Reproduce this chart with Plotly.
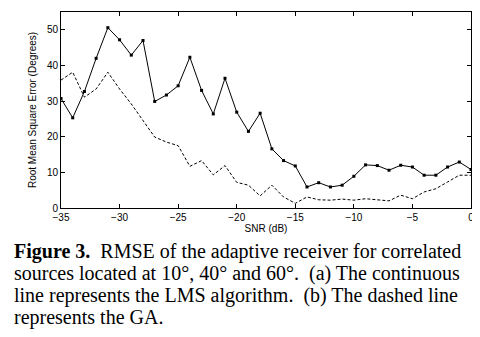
import plotly.graph_objects as go

snr = list(range(-35, 1))
lms = [30.7, 25.3, 32.7, 42.0, 50.6, 47.2, 42.9, 47.0, 29.9, 31.7, 34.3, 42.3,
       33.0, 26.4, 36.4, 26.9, 21.5, 26.6, 16.6, 13.3, 11.8, 5.9, 7.1, 5.9,
       6.4, 8.9, 12.1, 11.9, 10.6, 12.0, 11.5, 9.2, 9.2, 11.5, 12.9, 10.8]
ga = [35.9, 38.1, 31.1, 33.4, 38.1, 33.4, 29.2, 24.5, 19.9, 18.5, 17.5, 11.7,
      13.3, 9.3, 11.9, 7.2, 6.4, 3.4, 6.4, 3.1, 1.3, 3.1, 2.3, 2.2,
      2.5, 2.2, 2.6, 2.3, 2.0, 3.6, 2.6, 4.5, 5.4, 7.3, 9.2, 9.2]

x_ticks = [-35, -30, -25, -20, -15, -10, -5, 0]
y_ticks = [0, 10, 20, 30, 40, 50]

caption_lines = [
    "<b>Figure 3.</b>  RMSE of the adaptive receiver for correlated",
    "sources located at 10°, 40° and 60°.  (a) The continuous",
    "line represents the LMS algorithm.  (b) The dashed line",
    "represents the GA.",
]

fig = go.Figure()
fig.add_trace(go.Scatter(x=snr, y=ga, mode="lines",
                         line=dict(color="black", width=1, dash="3px,2px")))
fig.add_trace(go.Scatter(x=snr, y=lms, mode="lines+markers",
                         line=dict(color="black", width=1),
                         marker=dict(symbol="square", size=3, color="black")))

axis_common = dict(showgrid=False, zeroline=False, showline=True, linecolor="black",
                   linewidth=1, mirror="ticks", ticks="inside", ticklen=4,
                   tickcolor="black", tickfont=dict(family="Liberation Sans", size=10, color="black"))

fig.update_xaxes(range=[-35, 0], tickvals=x_ticks, **axis_common,
                 title=dict(text="SNR (dB)", font=dict(family="Liberation Sans", size=10, color="black"),
                            standoff=0))
fig.update_yaxes(range=[0, 55], tickvals=y_ticks, **axis_common,
                 title=dict(text="Root Mean Square Error (Degrees)",
                            font=dict(family="Liberation Sans", size=10, color="black"),
                            standoff=8))

H = 196.0
ys = [243, 265, 287, 309]
for txt, yp in zip(caption_lines, ys):
    fig.add_annotation(text=txt, xref="paper", yref="paper",
                       x=(5 - 53) / 410.0, y=(200 - yp) / H,
                       xanchor="left", yanchor="middle", showarrow=False,
                       borderpad=0,
                       font=dict(family="Liberation Serif", size=20, color="black"))

fig.update_layout(width=480, height=337, showlegend=False,
                  margin=dict(l=53, r=17, t=4, b=137),
                  plot_bgcolor="white", paper_bgcolor="white")

fig.write_html("out.html")
